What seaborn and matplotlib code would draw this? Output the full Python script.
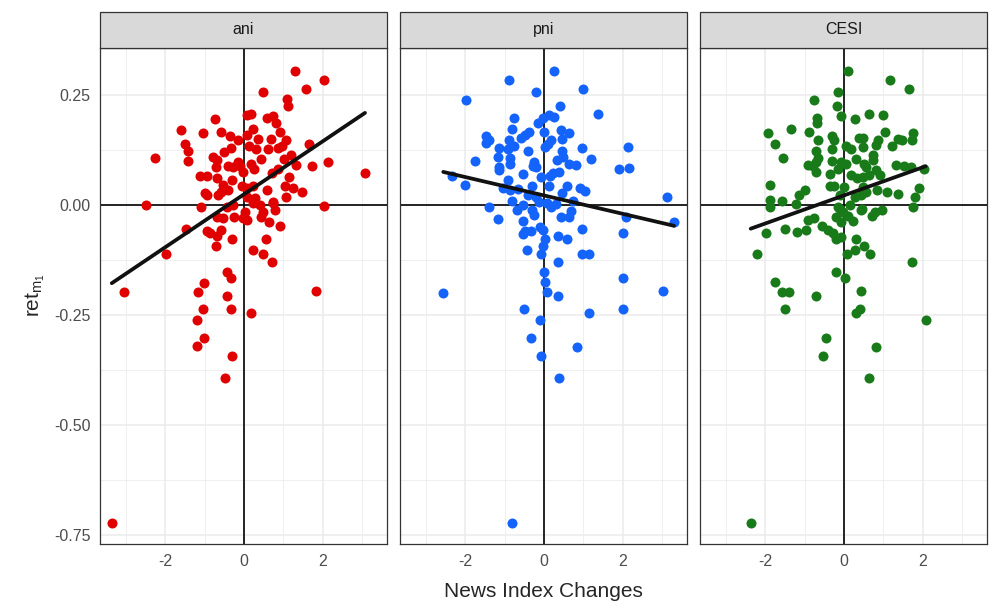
import matplotlib
matplotlib.use("Agg")
import matplotlib.pyplot as plt
from matplotlib.patches import Rectangle
from matplotlib.ticker import MultipleLocator, FixedLocator
import pandas as pd
import seaborn as sns

# Data (one panel per news index)
panels = ["ani", "pni", "CESI"]
panel_colors = ["#E00000", "#1463FA", "#197A19"]

ani_x = [1.31, 2.05, 1.58, 0.49, 1.10, 1.13, 0.07, 0.17, -0.74, 0.59,
         0.73, 0.81, -1.60, -1.04, -0.59, -0.36, 0.24, 0.07, 0.92, 0.36,
         0.68, -0.14, 1.07, -1.49, 1.66, -1.42, -0.34, -0.51, 0.13, 0.32,
         0.62, 0.87, 0.98, -2.25, -1.42, -0.78, -0.69, 1.21, 1.03, 0.43,
         -0.14, 2.14, 0.18, -0.71, -0.40, -0.27, -0.10, 0.25, 1.32, 1.72,
         3.08, 0.86, -1.12, -0.93, -0.69, -0.31, 0.72, 1.15, -0.03, -0.53,
         -0.40, -0.06, 0.07, 0.24, 1.05, 1.25, 0.60, 1.47, -0.99, -0.93,
         -0.65, -0.59, 1.08, 0.08, 0.28, 0.75, -2.49, -1.10, 2.04,
         -0.42, -0.27, 0.03, 0.07, 0.24, 0.41, 0.49, 0.75, 0.79, -0.69,
         -0.54, -0.25, -0.02, 0.43, 0.64, 0.92, -1.46, -0.95, -0.85, -0.59,
         -0.69, -0.31, 0.56, -0.71, 0.24, 0.49, -1.98, 0.71, -0.44, -0.33,
         -1.02, -3.04, -1.18, -0.44, 1.83, -1.05, -0.33, 0.17, -1.19, -1.02,
         -1.19, -0.29, -0.47, -3.36]
ani_y = [0.305, 0.285, 0.263, 0.258, 0.240, 0.225, 0.205, 0.207, 0.195, 0.197,
         0.202, 0.186, 0.170, 0.163, 0.167, 0.157, 0.173, 0.159, 0.165, 0.150,
         0.151, 0.147, 0.147, 0.139, 0.139, 0.123, 0.130, 0.121, 0.134, 0.127,
         0.127, 0.129, 0.134, 0.106, 0.100, 0.110, 0.102, 0.114, 0.104, 0.104,
         0.098, 0.098, 0.094, 0.086, 0.089, 0.086, 0.089, 0.083, 0.090, 0.089,
         0.073, 0.083, 0.067, 0.066, 0.061, 0.057, 0.072, 0.063, 0.076, 0.045,
         0.034, 0.043, 0.038, 0.043, 0.044, 0.038, 0.034, 0.030, 0.027, 0.023,
         0.023, 0.030, 0.019, 0.019, 0.017, 0.008, 0.000, -0.004, -0.002,
         -0.005, 0.000, -0.015, -0.034, 0.004, 0.000, -0.015, 0.004, -0.011, -0.027,
         -0.030, -0.027, -0.030, -0.027, -0.039, -0.048, -0.055, -0.058, -0.064, -0.057,
         -0.070, -0.078, -0.077, -0.093, -0.102, -0.110, -0.112, -0.130, -0.152, -0.165,
         -0.176, -0.198, -0.197, -0.206, -0.195, -0.235, -0.235, -0.246, -0.261, -0.301,
         -0.320, -0.342, -0.393, -0.723]

pni_x = [0.26, -0.90, 0.99, -0.21, -1.99, 0.42, 1.38, 0.14, 0.25, -0.03,
         -0.77, -0.14, -0.81, 0.01, -0.39, -0.48, 0.43, 0.64, 0.47, -1.47,
         -1.39, -1.47, -0.89, -0.57, 0.17, -0.76, -0.91, -1.14, 0.04, 0.11,
         -0.40, 0.96, 2.13, -1.18, -0.86, -0.86, 0.47, 0.49, 0.34, -1.75,
         1.19, -0.25, -0.27, -0.19, 0.64, 0.81, -1.14, -1.13, 1.92, 2.17,
         0.39, 0.24, -0.53, -2.35, -0.08, 0.15, -0.91, -2.01, 0.13, 0.59,
         -1.03, -0.86, -0.65, -0.29, 0.92, 1.04, -0.40, -0.19, 0.47, 3.12,
         -0.80, 0.75, -1.40, -0.53, -0.68, 0.07, 0.31, 0.19, -1.16, -0.29,
         -0.25, -0.12, 0.43, 0.64, 0.70, 2.10, 3.31, -0.54, -0.48, -0.34,
         -0.53, -0.10, -0.02, 0.98, 2.02, 0.36, 0.59, 0.03, -0.03, -0.42,
         -0.08, 0.98, 1.14, 0.36, 0.00, 0.02, 0.07, 2.00, -2.56, 0.36,
         3.02, -0.50, 2.02, 1.14, -0.10, -0.32, 0.85, -0.07, 0.39, -0.81]
pni_y = [0.305, 0.285, 0.263, 0.258, 0.239, 0.226, 0.208, 0.205, 0.201, 0.197,
         0.197, 0.187, 0.173, 0.167, 0.167, 0.159, 0.170, 0.163, 0.150, 0.157,
         0.149, 0.140, 0.147, 0.152, 0.148, 0.134, 0.127, 0.129, 0.131, 0.139,
         0.123, 0.130, 0.133, 0.110, 0.106, 0.093, 0.123, 0.110, 0.102, 0.101,
         0.104, 0.098, 0.089, 0.086, 0.093, 0.090, 0.086, 0.080, 0.083, 0.085,
         0.076, 0.072, 0.070, 0.067, 0.063, 0.066, 0.057, 0.045, 0.043, 0.043,
         0.038, 0.034, 0.036, 0.043, 0.038, 0.033, 0.023, 0.019, 0.027, 0.019,
         0.010, 0.010, -0.005, 0.000, -0.011, 0.004, 0.002, -0.004, -0.032, -0.011,
         -0.023, 0.008, -0.027, -0.027, -0.014, -0.028, -0.039, -0.036, -0.058, -0.058,
         -0.066, -0.049, -0.057, -0.055, -0.064, -0.070, -0.077, -0.078, -0.093, -0.102,
         -0.110, -0.112, -0.110, -0.130, -0.152, -0.175, -0.198, -0.165, -0.199, -0.206,
         -0.195, -0.235, -0.235, -0.246, -0.261, -0.301, -0.322, -0.342, -0.393, -0.723]

cesi_x = [0.10, 1.18, 1.65, -0.14, -0.76, -0.17, 0.65, 0.99, -0.08, 0.27,
          -0.69, -0.69, -1.92, -1.34, -0.88, 1.04, 1.77, 1.73, -0.30, -0.24,
          0.38, 0.48, -0.66, -1.74, 0.86, 0.82, 1.37, 1.48, 0.06, 0.19,
          0.48, -0.30, 1.23, -0.70, -1.55, 0.74, 0.74, 0.30, -0.66, -0.70,
          -0.30, -0.07, 0.06, 0.50, 0.57, 1.33, 1.52, 1.71, 2.03, -0.92,
          -0.79, -0.15, -0.70, -0.36, 0.82, 0.91, 0.19, 0.33, 0.48, 0.64,
          -1.87, -0.36, -0.24, 0.00, -1.00, -1.13, 0.48, 0.57, 0.44, 0.85,
          1.09, 1.37, 1.92, 1.80, -1.87, -1.87, -1.57, -1.21, -0.11, 0.27,
          0.16, -0.15, 1.77, 0.46, -0.11, -0.03, 0.44, 0.71, 0.80, 0.97,
          -0.21, 0.10, 0.23, -0.07, -0.92, -0.77, -1.97, -1.50, -1.19, -0.97,
          -0.55, -0.41, -0.28, -0.19, -0.07, 0.31, 0.51, 0.27, 0.08, 0.67,
          -2.20, 1.72, -0.19, 0.02, -1.75, -1.57, -1.40, -0.72, 0.44, -1.51,
          0.42, 0.30, 2.08, -0.45, 0.82, -0.53, 0.64, -2.37]
cesi_y = [0.305, 0.285, 0.263, 0.258, 0.239, 0.226, 0.208, 0.205, 0.202, 0.195,
          0.197, 0.187, 0.163, 0.172, 0.167, 0.167, 0.163, 0.148, 0.157, 0.148,
          0.152, 0.152, 0.148, 0.139, 0.148, 0.136, 0.151, 0.148, 0.134, 0.127,
          0.131, 0.127, 0.134, 0.123, 0.106, 0.114, 0.102, 0.104, 0.106, 0.098,
          0.101, 0.098, 0.093, 0.093, 0.086, 0.091, 0.089, 0.086, 0.083, 0.090,
          0.089, 0.083, 0.076, 0.070, 0.080, 0.068, 0.068, 0.061, 0.064, 0.068,
          0.045, 0.043, 0.043, 0.042, 0.034, 0.023, 0.042, 0.030, 0.023, 0.034,
          0.030, 0.025, 0.039, 0.019, 0.011, -0.004, 0.010, 0.002, 0.023, 0.019,
          0.000, -0.004, -0.004, -0.008, -0.008, -0.015, -0.011, -0.025, -0.015, -0.011,
          -0.027, -0.025, -0.036, -0.038, -0.034, -0.030, -0.063, -0.055, -0.061, -0.057,
          -0.048, -0.057, -0.064, -0.076, -0.072, -0.076, -0.093, -0.102, -0.110, -0.110,
          -0.112, -0.130, -0.152, -0.165, -0.175, -0.198, -0.197, -0.206, -0.195, -0.235,
          -0.235, -0.246, -0.261, -0.301, -0.322, -0.342, -0.393, -0.723]

xs = [ani_x, pni_x, cesi_x]
ys = [ani_y, pni_y, cesi_y]

# Style (set fonts after seaborn style call)
sns.set_style("white")
plt.rcParams["font.family"] = ["Liberation Sans", "DejaVu Sans"]
plt.rcParams["mathtext.fontset"] = "custom"
plt.rcParams["mathtext.rm"] = "Liberation Sans"
plt.rcParams["mathtext.it"] = "Liberation Sans"

fig, axes = plt.subplots(1, 3, figsize=(10, 6.15), dpi=100, sharey=True)
fig.subplots_adjust(left=0.100, right=0.987, top=0.922, bottom=0.1154, wspace=0.0453)

for i, ax in enumerate(axes):
    df = pd.DataFrame({"x": xs[i], "y": ys[i]})

    # grid like ggplot theme_bw
    ax.set_axisbelow(True)
    ax.xaxis.set_major_locator(FixedLocator([-2, 0, 2]))
    ax.xaxis.set_minor_locator(FixedLocator([-3, -1, 1, 3]))
    ax.yaxis.set_major_locator(MultipleLocator(0.25))
    ax.yaxis.set_minor_locator(MultipleLocator(0.125))
    ax.grid(True, which="major", color="#EBEBEB", lw=1.1)
    ax.grid(True, which="minor", color="#EBEBEB", lw=0.55)

    # zero reference lines
    ax.axhline(0, color="black", lw=1.2, zorder=2)
    ax.axvline(0, color="black", lw=1.2, zorder=2)

    sns.scatterplot(data=df, x="x", y="y", ax=ax, color=panel_colors[i],
                    s=52, linewidth=0, alpha=1, zorder=3)
    sns.regplot(data=df, x="x", y="y", ax=ax, scatter=False, ci=None,
                truncate=True, color="#111111", line_kws={"lw": 2.7, "zorder": 4})

    ax.set_xlim(-3.66, 3.64)
    ax.set_ylim(-0.770, 0.357)
    ax.set_xlabel("")
    ax.set_ylabel("")

    for sp in ax.spines.values():
        sp.set_visible(True)
        sp.set_color("#333333")
        sp.set_linewidth(0.9)

    ax.tick_params(axis="both", which="major", length=4, width=0.9, color="#333333",
                   labelsize=11.5, labelcolor="#4D4D4D", pad=3)
    ax.tick_params(axis="both", which="minor", length=0)
    ax.xaxis.set_major_formatter(plt.FuncFormatter(lambda v, p: f"{v:.0f}"))
    if i > 0:
        ax.tick_params(axis="y", left=False, labelleft=False)

    # facet strip on top of each panel
    strip_h = 0.0726
    ax.add_patch(Rectangle((0, 1), 1, strip_h, transform=ax.transAxes, clip_on=False,
                           facecolor="#D9D9D9", edgecolor="#333333", lw=0.9, zorder=5))
    ax.text(0.5, 1 + strip_h / 2, panels[i], transform=ax.transAxes, ha="center",
            va="center", fontsize=11.5, color="#1A1A1A", zorder=6)

axes[0].yaxis.set_major_formatter(plt.FuncFormatter(lambda v, p: f"{v:.2f}"))

fig.text(0.5435, 0.022, "News Index Changes", ha="center", va="bottom", fontsize=15)
fig.text(0.035, 0.52, r"$\mathregular{ret_{m_1}}$", ha="center", va="center",
         rotation=90, fontsize=15)

fig.savefig("out.png", dpi=100)
